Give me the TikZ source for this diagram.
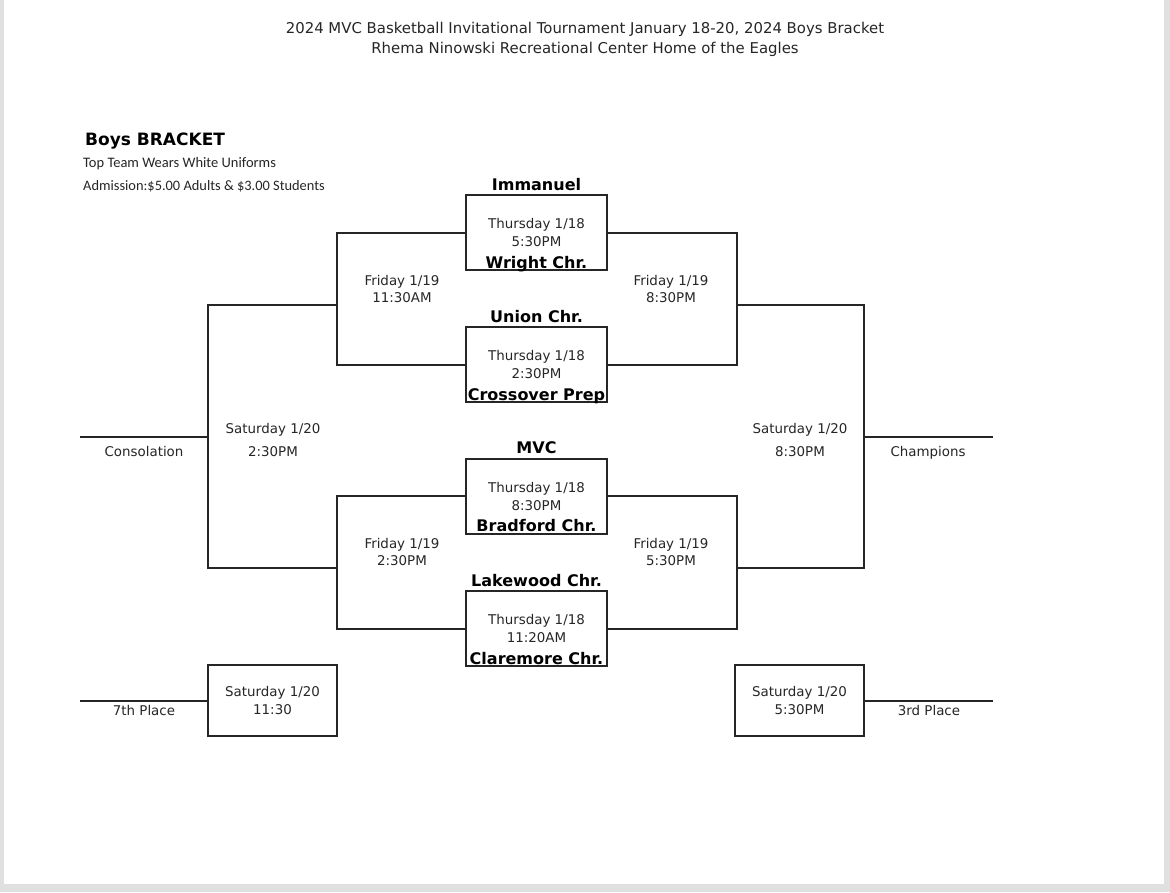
\documentclass[tikz,border=0pt]{standalone}
\usepackage{fontspec}
\setmainfont{DejaVu Sans}
\newfontfamily\calib{Carlito}
\begin{document}
\begin{tikzpicture}[x=1pt,y=-1pt,
  conn/.style={line width=2pt, draw=black!85},
  game/.style={draw=black!85, line width=2pt, minimum width=141pt, minimum height=75pt, inner sep=0pt, align=center, text=black!85, font=\fontsize{13.4}{18}\selectfont},
  placebox/.style={game, minimum width=129pt, minimum height=71pt},
  team/.style={font=\bfseries\fontsize{16}{18}\selectfont, inner sep=0pt, anchor=base, text=black},
  info/.style={align=center, inner sep=0pt, text=black!85, font=\fontsize{13.4}{17.5}\selectfont},
  sat/.style={info, font=\fontsize{13.4}{22.5}\selectfont},
  lab/.style={inner sep=0pt, anchor=base, text=black!85, font=\fontsize{13.4}{16}\selectfont},
  head/.style={inner sep=0pt, text=black!85, font=\fontsize{14.9}{16}\selectfont}
]
\useasboundingbox (0,0) rectangle (1170,892);
\fill[black!12] (0,0) rectangle (1170,892);
\fill[white] (4,0) rectangle (1164,884);

% header
\node[head] (title1) at (585,29) {2024 MVC Basketball Invitational Tournament January 18-20, 2024 Boys Bracket};
\node[head] (title2) at (585,49) {Rhema Ninowski Recreational Center Home of the Eagles};
\node[inner sep=0pt, anchor=west, font=\bfseries\fontsize{17}{20}\selectfont] (bb) at (85,141) {Boys BRACKET};
\node[inner sep=0pt, anchor=west, text=black!85, font=\calib\fontsize{14.5}{16}\selectfont] (n1) at (83,164) {Top Team Wears White Uniforms};
\node[inner sep=0pt, anchor=west, text=black!85, font=\calib\fontsize{14.4}{16}\selectfont] (n2) at (83,186) {Admission:\$5.00 Adults \& \$3.00 Students};

% first round games
\node[game] (g1) at (536.5,232.5) {Thursday 1/18\\5:30PM};
\node[game] (g2) at (536.5,364.5) {Thursday 1/18\\2:30PM};
\node[game] (g3) at (536.5,496) {Thursday 1/18\\8:30PM};
\node[game] (g4) at (536.5,628.5) {Thursday 1/18\\11:20AM};

\node[team] (t1) at ([yshift=4pt]g1.north) {Immanuel};
\node[team] (t2) at ([yshift=3pt]g1.south) {Wright Chr.};
\node[team] (t3) at ([yshift=4pt]g2.north) {Union Chr.};
\node[team] (t4) at ([yshift=3pt]g2.south) {Crossover Prep};
\node[team] (t5) at ([yshift=4pt]g3.north) {MVC};
\node[team] (t6) at ([yshift=3pt]g3.south) {Bradford Chr.};
\node[team] (t7) at ([yshift=4pt]g4.north) {Lakewood Chr.};
\node[team] (t8) at ([yshift=3pt]g4.south) {Claremore Chr.};

% bracket joints
\coordinate (L1) at (337,305);
\coordinate (L2) at (337,568);
\coordinate (R1) at (737,305);
\coordinate (R2) at (737,568);
\coordinate (LL) at (208,437);
\coordinate (RR) at (864,437);
\coordinate (consEnd) at (80,437);
\coordinate (champEnd) at (993,437);

\draw[conn] (g1.west) -| (L1) |- (g2.west);
\draw[conn] (g3.west) -| (L2) |- (g4.west);
\draw[conn] (g1.east) -| (R1) |- (g2.east);
\draw[conn] (g3.east) -| (R2) |- (g4.east);
\draw[conn] (L1) -| (LL) |- (L2);
\draw[conn] (R1) -| (RR) |- (R2);
\draw[conn] (LL) -- (consEnd);
\draw[conn] (RR) -- (champEnd);

% second round info
\node[info] (f1) at (402,289) {Friday 1/19\\11:30AM};
\node[info] (f2) at (671,289) {Friday 1/19\\8:30PM};
\node[info] (f3) at (402,552) {Friday 1/19\\2:30PM};
\node[info] (f4) at (671,552) {Friday 1/19\\5:30PM};
\node[sat] (s1) at (273,440) {Saturday 1/20\\2:30PM};
\node[sat] (s2) at (800,440) {Saturday 1/20\\8:30PM};
\node[lab] (cons) at (144,456) {Consolation};
\node[lab] (champ) at (928,456) {Champions};

% placement games
\node[placebox] (p7) at (272.5,700.5) {Saturday 1/20\\11:30};
\node[placebox] (p3) at (799.5,700.5) {Saturday 1/20\\5:30PM};
\coordinate (p7End) at (80,700.5);
\coordinate (p3End) at (993,700.5);
\draw[conn] (p7.west) -- (p7End);
\draw[conn] (p3.east) -- (p3End);
\node[lab] (l7) at (144,715) {7th Place};
\node[lab] (l3) at (929,715) {3rd Place};
\end{tikzpicture}
\end{document}
